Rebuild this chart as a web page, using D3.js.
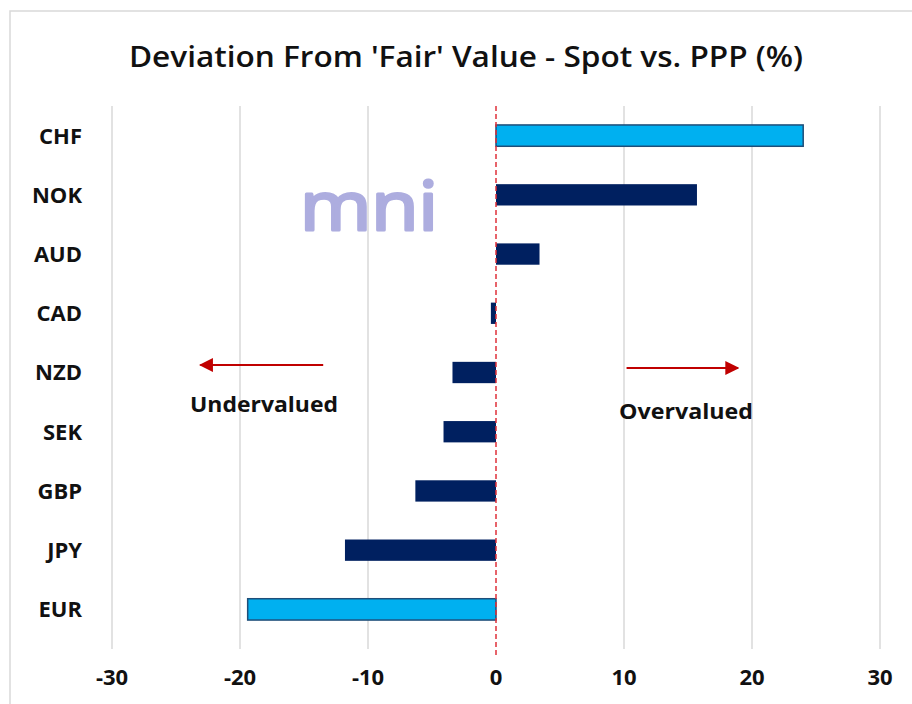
<!DOCTYPE html>
<html>
<head>
<meta charset="utf-8">
<script src="https://cdn.jsdelivr.net/npm/d3@7"></script>
<style>
  body { margin: 0; background: #fff; }
  text { font-family: "Open Sans", sans-serif; }
</style>
</head>
<body>
<svg width="912" height="704"></svg>
<script>
const currencies = ['CHF', 'NOK', 'AUD', 'CAD', 'NZD', 'SEK', 'GBP', 'JPY', 'EUR'];
const deviation = [24.0, 15.7, 3.4, -0.4, -3.4, -4.1, -6.3, -11.8, -19.4];
const highlighted = ['CHF', 'EUR'];
const xTicks = [-30, -20, -10, 0, 10, 20, 30];

const data = currencies.map(function (c, i) { return { name: c, value: deviation[i] }; });

const svg = d3.select('svg');

// outer chart frame
svg.append('rect')
    .attr('x', 10).attr('y', 11)
    .attr('width', 920).attr('height', 720)
    .attr('fill', '#fff')
    .attr('stroke', '#d9d9d9')
    .attr('stroke-width', 1.5);

const plotLeft = 112, plotRight = 880, plotTop = 106, plotBottom = 639;

const x = d3.scaleLinear().domain([-30, 30]).range([plotLeft, plotRight]);
const y = d3.scaleBand().domain(currencies).range([plotTop, plotBottom]).paddingInner(0.64).paddingOuter(0.32);

// gridlines
svg.append('g')
    .selectAll('line')
    .data(xTicks.filter(function (d) { return d !== 0; }))
    .enter().append('line')
    .attr('x1', function (d) { return x(d); })
    .attr('x2', function (d) { return x(d); })
    .attr('y1', plotTop)
    .attr('y2', plotBottom + 10)
    .attr('stroke', '#d9d9d9')
    .attr('stroke-width', 1.5);

// watermark
svg.append('text')
    .attr('x', 369).attr('y', 230)
    .attr('text-anchor', 'middle')
    .attr('font-family', 'Inter, sans-serif')
    .attr('font-size', 68)
    .attr('font-weight', 400)
    .attr('fill', '#adaddf')
    .attr('stroke', '#adaddf')
    .attr('stroke-width', 3)
    .attr('stroke-linejoin', 'round')
    .attr('textLength', 138)
    .attr('lengthAdjust', 'spacingAndGlyphs')
    .text('mni');

// bars
svg.append('g')
    .selectAll('rect')
    .data(data)
    .enter().append('rect')
    .attr('x', function (d) { return x(Math.min(0, d.value)); })
    .attr('y', function (d) { return y(d.name); })
    .attr('width', function (d) { return Math.abs(x(d.value) - x(0)); })
    .attr('height', y.bandwidth())
    .attr('fill', function (d) { return highlighted.includes(d.name) ? '#00b0f0' : '#002060'; })
    .attr('stroke', function (d) { return highlighted.includes(d.name) ? '#1f4e79' : 'none'; })
    .attr('stroke-width', 1.5);

// zero line
svg.append('line')
    .attr('x1', x(0)).attr('x2', x(0))
    .attr('y1', plotTop).attr('y2', plotBottom + 16)
    .attr('stroke', '#e0303a')
    .attr('stroke-width', 1.5)
    .attr('stroke-dasharray', '5,3');

// category labels
svg.append('g')
    .selectAll('text')
    .data(currencies)
    .enter().append('text')
    .attr('x', 82)
    .attr('y', function (d) { return y(d) + y.bandwidth() / 2; })
    .attr('dy', '0.36em')
    .attr('text-anchor', 'end')
    .attr('font-size', 22)
    .attr('font-weight', 700)
    .attr('fill', '#111')
    .text(function (d) { return d; });

// x tick labels
svg.append('g')
    .selectAll('text')
    .data(xTicks)
    .enter().append('text')
    .attr('x', function (d) { return x(d); })
    .attr('y', 685)
    .attr('text-anchor', 'middle')
    .attr('font-size', 22)
    .attr('font-weight', 700)
    .attr('fill', '#111')
    .text(function (d) { return d; });

// title
svg.append('text')
    .attr('x', 466).attr('y', 67)
    .attr('text-anchor', 'middle')
    .attr('font-size', 28)
    .attr('font-weight', 600)
    .attr('fill', '#111')
    .attr('textLength', 674)
    .attr('lengthAdjust', 'spacingAndGlyphs')
    .text("Deviation From 'Fair' Value - Spot vs. PPP (%)");

// arrows
const defs = svg.append('defs');
defs.append('marker')
    .attr('id', 'arrow')
    .attr('viewBox', '0 0 10 10')
    .attr('refX', 9).attr('refY', 5)
    .attr('markerWidth', 7).attr('markerHeight', 7)
    .attr('orient', 'auto')
    .append('path')
    .attr('d', 'M0,0L10,5L0,10Z')
    .attr('fill', '#c00000');

svg.append('line')
    .attr('x1', x(-13.5)).attr('x2', x(-23.1))
    .attr('y1', 365).attr('y2', 365)
    .attr('stroke', '#c00000').attr('stroke-width', 2)
    .attr('marker-end', 'url(#arrow)');

svg.append('line')
    .attr('x1', x(10.2)).attr('x2', x(18.9))
    .attr('y1', 368).attr('y2', 368)
    .attr('stroke', '#c00000').attr('stroke-width', 2)
    .attr('marker-end', 'url(#arrow)');

svg.append('text')
    .attr('x', 264).attr('y', 412)
    .attr('text-anchor', 'middle')
    .attr('font-size', 22).attr('font-weight', 700)
    .attr('fill', '#111')
    .attr('textLength', 148)
    .attr('lengthAdjust', 'spacingAndGlyphs')
    .text('Undervalued');

svg.append('text')
    .attr('x', 686).attr('y', 419)
    .attr('text-anchor', 'middle')
    .attr('font-size', 22).attr('font-weight', 700)
    .attr('fill', '#111')
    .attr('textLength', 134)
    .attr('lengthAdjust', 'spacingAndGlyphs')
    .text('Overvalued');
</script>
</body>
</html>
